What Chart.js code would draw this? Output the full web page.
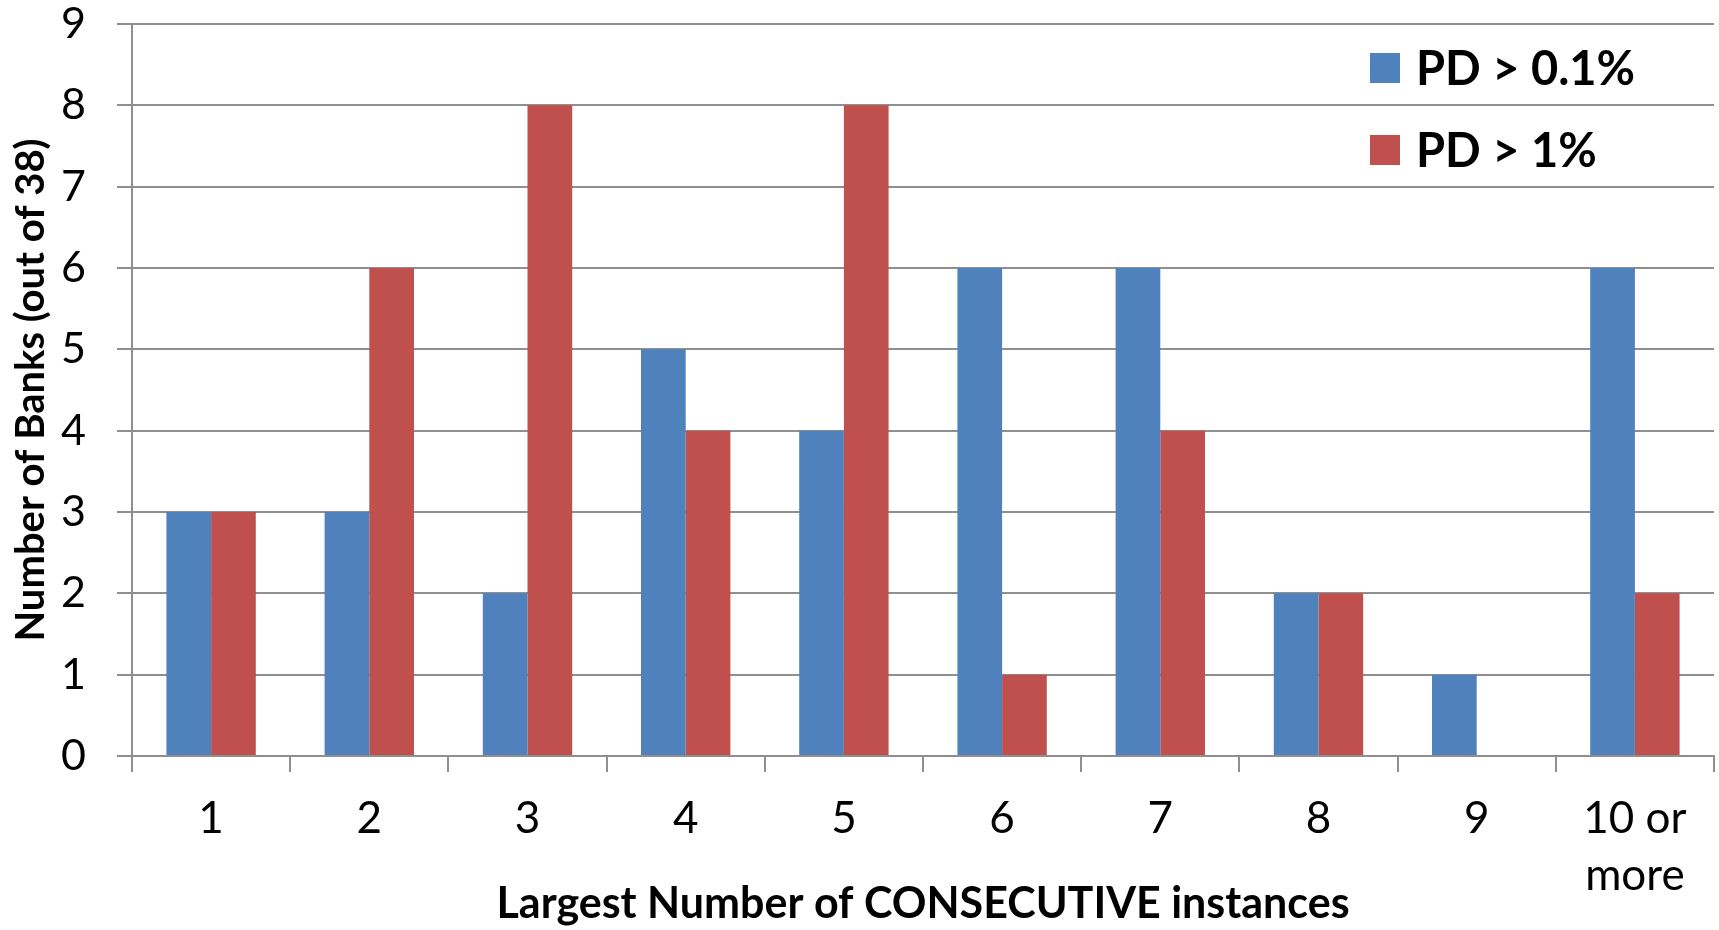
<!DOCTYPE html>
<html>
<head>
<meta charset="utf-8">
<script src="https://cdn.jsdelivr.net/npm/chart.js@4.4.1/dist/chart.umd.min.js"></script>
<style>
  html, body { margin: 0; padding: 0; background: #ffffff; }
  #wrap { width: 1719px; height: 930px; position: relative; }
</style>
</head>
<body>
<div id="wrap"><canvas id="chart" width="1719" height="930"></canvas></div>
<script>
// Categories: longest run of consecutive instances
const categories = ['1', '2', '3', '4', '5', '6', '7', '8', '9', ['10 or', 'more']];
// Number of banks (out of 38) per threshold
const pdAbove01 = [3, 3, 2, 5, 4, 6, 6, 2, 1, 6];
const pdAbove1  = [3, 6, 8, 4, 8, 1, 4, 2, 0, 2];
const seriesLabels = ['PD > 0.1%', 'PD > 1%'];
const seriesColors = ['#4F81BD', '#C0504D'];
const yTicks = [0, 1, 2, 3, 4, 5, 6, 7, 8, 9];

const FONT = 'Lato, "Open Sans", sans-serif';
const GRID = '#8f8f8f';

// Legend drawn inside the plot, top-right
const insideLegend = {
  id: 'insideLegend',
  afterDraw(chart) {
    const { ctx, chartArea } = chart;
    const x0 = chartArea.right - 344;
    const rows = [chartArea.top + 44, chartArea.top + 126];
    ctx.save();
    ctx.font = 'bold 47px ' + FONT;
    ctx.textBaseline = 'middle';
    chart.data.datasets.forEach((ds, i) => {
      ctx.fillStyle = ds.backgroundColor;
      ctx.fillRect(x0, rows[i] - 15, 30, 30);
      ctx.fillStyle = '#000';
      ctx.fillText(ds.label, x0 + 46, rows[i] + 2);
    });
    ctx.restore();
  }
};

new Chart(document.getElementById('chart'), {
  type: 'bar',
  data: {
    labels: categories,
    datasets: [
      { label: seriesLabels[0], data: pdAbove01, backgroundColor: seriesColors[0] },
      { label: seriesLabels[1], data: pdAbove1, backgroundColor: seriesColors[1] }
    ]
  },
  options: {
    responsive: false,
    animation: false,
    devicePixelRatio: 1,
    layout: { padding: { left: 0, right: 5, top: 24, bottom: 0 } },
    datasets: { bar: { categoryPercentage: 0.565, barPercentage: 1.0 } },
    plugins: { legend: { display: false }, tooltip: { enabled: false } },
    scales: {
      x: {
        grid: { offset: true, drawOnChartArea: false, color: GRID, lineWidth: 2, tickLength: 16 },
        border: { color: GRID, width: 2 },
        ticks: { color: '#000', font: { family: FONT, size: 44, lineHeight: 1.3 }, padding: 18, maxRotation: 0, autoSkip: false },
        title: {
          display: true,
          text: 'Largest Number of CONSECUTIVE instances',
          color: '#000',
          font: { family: FONT, size: 43, weight: 'bold', lineHeight: 1.2 },
          padding: { top: 0, bottom: 0 }
        },
        afterFit(scale) { scale.height = 174; scale.paddingLeft = 0; scale.paddingRight = 0; }
      },
      y: {
        min: 0, max: 9,
        afterBuildTicks(scale) { scale.ticks = yTicks.map(v => ({ value: v })); },
        grid: { color: GRID, lineWidth: 2, tickLength: 15 },
        border: { color: GRID, width: 2 },
        ticks: { color: '#000', font: { family: FONT, size: 43 }, padding: 31 },
        title: {
          display: true,
          text: 'Number of Banks (out of 38)',
          color: '#000',
          font: { family: FONT, size: 40, weight: 'bold', lineHeight: 1.2 },
          padding: { top: 7, bottom: 0 }
        },
        afterFit(scale) { scale.width = 132; scale.paddingTop = 0; scale.paddingBottom = 0; }
      }
    }
  },
  plugins: [insideLegend]
});
</script>
</body>
</html>
